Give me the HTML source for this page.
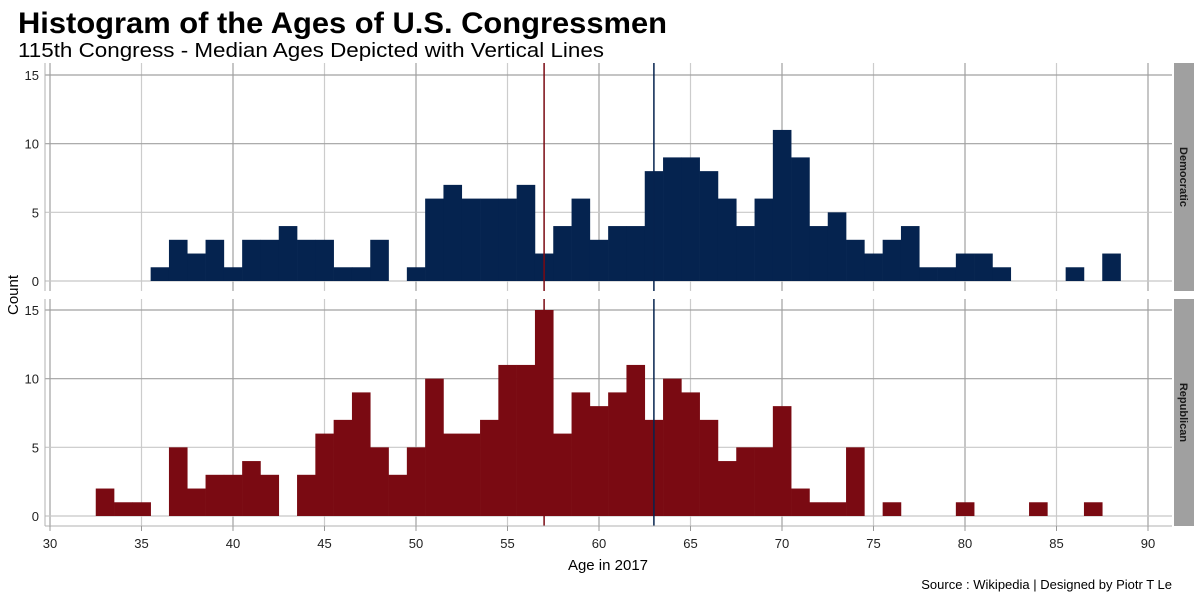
<!DOCTYPE html>
<html><head><meta charset="utf-8"><style>
html,body{margin:0;padding:0;background:#fff}
svg{display:block;font-family:"Liberation Sans",sans-serif}
</style></head><body>
<svg id="c" width="1200" height="600" viewBox="0 0 1200 600">
<text x="18" y="33" font-size="30" font-weight="bold" fill="#000" textLength="649" lengthAdjust="spacingAndGlyphs">Histogram of the Ages of U.S. Congressmen</text>
<text x="18" y="57" font-size="20" fill="#000" textLength="586" lengthAdjust="spacingAndGlyphs">115th Congress - Median Ages Depicted with Vertical Lines</text>
<text x="0" y="0" font-size="15" transform="translate(18,295) rotate(-90)" text-anchor="middle">Count</text>
<text x="608" y="570" font-size="15" text-anchor="middle">Age in 2017</text>
<text x="1172" y="589" font-size="13" text-anchor="end">Source : Wikipedia | Designed by Piotr T Le</text>
<g id="g"></g>
</svg>
<script>
const demAges=[36,37,38,39,40,41,42,43,44,45,46,47,48,50,51,52,53,54,55,56,57,58,59,60,61,62,63,64,65,66,67,68,69,70,71,72,73,74,75,76,77,78,79,80,81,82,86,88];
const demCounts=[1,3,2,3,1,3,3,4,3,3,1,1,3,1,6,7,6,6,6,7,2,4,6,3,4,4,8,9,9,8,6,4,6,11,9,4,5,3,2,3,4,1,1,2,2,1,1,2];
const repAges=[33,34,35,37,38,39,40,41,42,44,45,46,47,48,49,50,51,52,53,54,55,56,57,58,59,60,61,62,63,64,65,66,67,68,69,70,71,72,73,74,76,80,84,87];
const repCounts=[2,1,1,5,2,3,3,4,3,3,6,7,9,5,3,5,10,6,6,7,11,11,15,6,9,8,9,11,7,10,9,7,4,5,5,8,2,1,1,5,1,1,1,1];
const xTicks=[30,35,40,45,50,55,60,65,70,75,80,85,90];
const yTicks=[0,5,10,15];
const medians=[57,63];
const medianColors=['#7a0a12','#06234f'];
const NS='http://www.w3.org/2000/svg';
const g=document.getElementById('g');
const X=v=>50+(v-30)*(1098/60);
const panels=[{name:'Democratic',top:63,bot:291,zero:281,ages:demAges,counts:demCounts,col:'#05234f'},
{name:'Republican',top:299,bot:526,zero:516,ages:repAges,counts:repCounts,col:'#7a0a12'}];
const unit=206/15;
function el(t,a){const e=document.createElementNS(NS,t);for(const k in a)e.setAttribute(k,a[k]);g.appendChild(e);return e;}
panels.forEach((p,pi)=>{
  const Y=v=>p.zero-v*unit;
  xTicks.forEach((t,i)=>{const l=el('line',{x1:X(t),x2:X(t),y1:p.top,y2:p.bot,stroke:i%2?'#cccccc':'#a0a0a0','stroke-width':1.2});
    });
  yTicks.forEach((t,i)=>{const l=el('line',{x1:45,x2:1172,y1:Y(t),y2:Y(t),stroke:i<2?'#c8c8c8':'#a0a0a0','stroke-width':1.2});
    
    const tx=el('text',{x:39,y:Y(t)+5,'font-size':13,'text-anchor':'end',fill:'#222'});tx.textContent=t;
    });
  const ax=el('line',{x1:45,x2:45,y1:p.top,y2:p.bot,stroke:'#b0b0b0','stroke-width':1});
  
  p.ages.forEach((a,i)=>{const r=el('rect',{x:X(a-0.5),width:X(a+0.5)-X(a-0.5)+0.3,y:Y(p.counts[i]),height:p.counts[i]*unit,fill:p.col});
    });
  medians.forEach((m,i)=>{const l=el('line',{x1:X(m),x2:X(m),y1:p.top,y2:p.bot,stroke:medianColors[i],'stroke-width':1.5});
    });
  const s=el('rect',{x:1174,y:p.top,width:20,height:p.bot-p.top,fill:'#a0a0a0'});
  
  const st=el('text',{x:0,y:0,'font-size':11,'font-weight':'bold','text-anchor':'middle',fill:'#1a1a1a',transform:`translate(1180,${(p.top+p.bot)/2}) rotate(90)`});
  st.textContent=p.name;
});
const xa=el('line',{x1:45,x2:1172,y1:526,y2:526,stroke:'#b0b0b0','stroke-width':1});

xTicks.forEach(t=>{const k=el('line',{x1:X(t),x2:X(t),y1:526,y2:531,stroke:'#999'});
  
  const tx=el('text',{x:X(t),y:548,'font-size':13,'text-anchor':'middle',fill:'#222'});tx.textContent=t;
  });
</script>
</body></html>
